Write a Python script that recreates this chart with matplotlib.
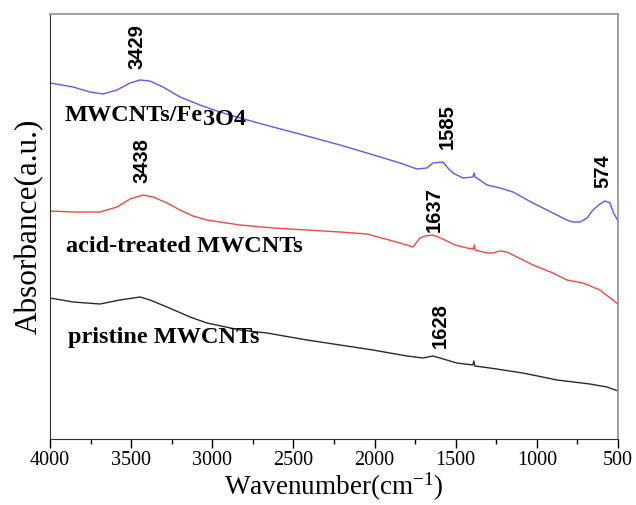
import numpy as np
import matplotlib
matplotlib.use("Agg")
import matplotlib.pyplot as plt
from matplotlib.ticker import MultipleLocator

plt.rcParams["mathtext.fontset"] = "custom"
plt.rcParams["mathtext.rm"] = "Liberation Serif"
plt.rcParams["mathtext.it"] = "Liberation Serif:italic"

# spectra (wavenumber, absorbance in arbitrary units)
wn_fe = [4000, 3858, 3754, 3673, 3587, 3507, 3445, 3384, 3304, 3199, 3076, 2953, 2829,
         2626, 2417, 2213, 2047, 1843, 1739, 1677, 1640, 1579, 1548, 1517, 1455,
         1394, 1386, 1381, 1369, 1307, 1227, 1147, 1024, 901, 815, 778, 734, 691,
         654, 611, 580, 549, 530, 500]
ab_fe = [356, 352, 347, 345, 349, 356, 359, 358, 352, 342, 334, 327, 321,
         312, 303, 294, 286, 276, 270, 271, 276, 277, 271, 266, 261,
         262, 266, 262, 261, 254, 251, 247, 236, 226, 219, 217, 217, 221,
         229, 235, 238, 236, 227, 218]

wn_acid = [4000, 3858, 3692, 3587, 3507, 3427, 3365, 3279, 3199, 3119, 3033, 2829,
           2626, 2417, 2213, 2047, 1843, 1763, 1720, 1689, 1646, 1609, 1566, 1505,
           1431, 1390, 1385, 1380, 1307, 1270, 1227, 1184, 1147, 1024, 901, 815,
           716, 611, 500]
ab_acid = [228, 227, 227, 232, 240, 244, 242, 236, 229, 223, 219, 214,
           211, 209, 207, 205, 196, 192, 201, 203, 204, 202, 199, 194,
           191, 190, 194, 189, 186, 186, 188, 187, 184, 174, 166, 159,
           156, 149, 135]

wn_pris = [4000, 3858, 3692, 3569, 3445, 3384, 3279, 3137, 3033, 2829, 2663, 2417,
           2213, 2010, 1800, 1702, 1640, 1597, 1555, 1493, 1394, 1388, 1382, 1289,
           1086, 876, 673, 568, 500]
ab_pris = [141, 137, 135, 139, 142, 139, 132, 122, 116, 109, 106, 99,
           94, 89, 83, 81, 83, 81, 79, 76, 74, 78, 73, 71,
           66, 59, 55, 52, 48]

# peak labels: (text, wavenumber, height)
peaks = [("3429", 3461, 392), ("1585", 1554, 312), ("574", 590, 268),
         ("3438", 3436, 278), ("1637", 1634, 229), ("1628", 1597, 113)]

fig = plt.figure(figsize=(6.36, 5.05), dpi=100)
ax = fig.add_axes([0.0786, 0.1307, 0.893, 0.8416])

ax.plot(wn_fe, ab_fe, color="#5a5af5", lw=1.0)
ax.plot(wn_acid, ab_acid, color="#f04848", lw=1.0)
ax.plot(wn_pris, ab_pris, color="#2a2a2a", lw=1.0)

ax.set_xlim(4000, 500)
ax.set_ylim(0, 425)
ax.xaxis.set_major_locator(MultipleLocator(500))
ax.xaxis.set_minor_locator(MultipleLocator(250))
ax.tick_params(axis="x", which="major", direction="out", length=6.5, width=1.0, pad=2,
               labelsize=14.5)
ax.tick_params(axis="x", which="minor", direction="out", length=3.5, width=1.0)
ax.set_yticks([])
for lab in ax.get_xticklabels():
    lab.set_family("Liberation Serif")

for side in ["left", "bottom"]:
    ax.spines[side].set_color("#333333")
for side in ["top", "right"]:
    ax.spines[side].set_color("#999999")
    ax.spines[side].set_linewidth(1.3)

ax.set_xlabel("Wavenumber(cm$^{-1}$)", family="Liberation Serif", fontsize=19.5, va="bottom")
ax.xaxis.set_label_coords(0.5, -0.150)
ax.set_ylabel("Absorbance(a.u.)", family="Liberation Serif", fontsize=22.5, labelpad=4)

for txt, x, y in peaks:
    ax.text(x, y, txt, rotation=90, ha="center", va="center", fontsize=14.5,
            fontweight="bold", family="Liberation Sans")

lab_kw = dict(family="Liberation Serif", fontweight="bold", fontsize=17.5)
t = ax.text(3908, 318, "MWCNTs/Fe", ha="left", va="baseline", **lab_kw)
ax.annotate("3O4", xy=(1, 0), xycoords=t, xytext=(0, -3), textcoords="offset points",
            ha="left", va="bottom", **lab_kw)
ax.text(3901, 187, "acid-treated MWCNTs", ha="left", va="baseline", **lab_kw)
ax.text(3889, 96, "pristine MWCNTs", ha="left", va="baseline", **lab_kw)

fig.savefig("out.png", dpi=100)
